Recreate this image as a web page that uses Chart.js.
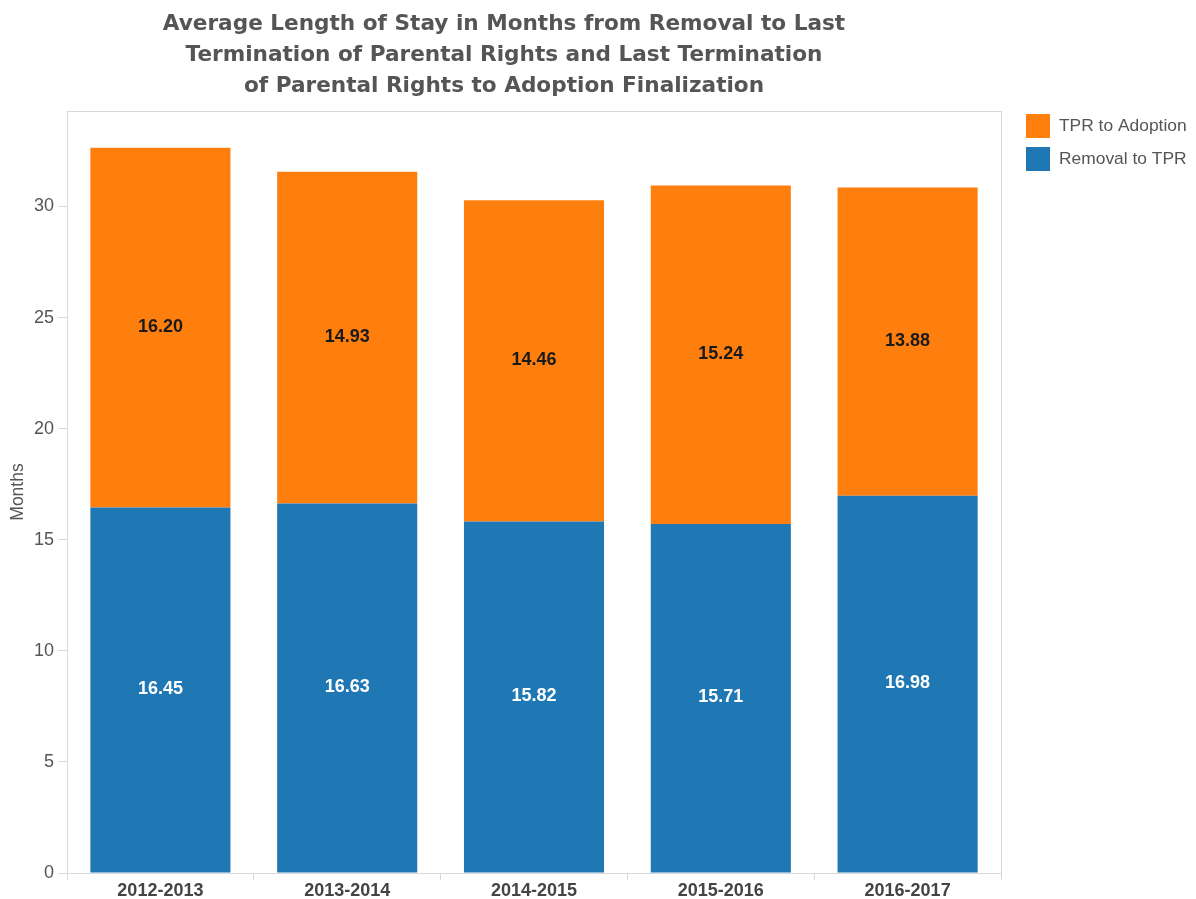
<!DOCTYPE html>
<html>
<head>
<meta charset="utf-8">
<script src="https://cdn.jsdelivr.net/npm/chart.js@4/dist/chart.umd.min.js"></script>
<style>
  html, body { margin: 0; padding: 0; background: #fff; }
  #wrap { width: 1196px; height: 899px; }
</style>
</head>
<body>
<div id="wrap"><canvas id="c" width="1196" height="899"></canvas></div>
<script>
// chart data
const titleLines = [
  "Average Length of Stay in Months from Removal to Last",
  "Termination of Parental Rights and Last Termination",
  "of Parental Rights to Adoption Finalization"
];
const years = ["2012-2013", "2013-2014", "2014-2015", "2015-2016", "2016-2017"];
const removalToTpr = [16.45, 16.63, 15.82, 15.71, 16.98];
const tprToAdoption = [16.20, 14.93, 14.46, 15.24, 13.88];
const yTicks = [0, 5, 10, 15, 20, 25, 30];
const seriesNames = ["Removal to TPR", "TPR to Adoption"];

const BLUE = "#1f77b4";
const ORANGE = "#ff7f0e";
const AXIS = "#d9d9d9";
const FONT = "'Liberation Sans', Arial, sans-serif";

// title, legend, plot frame and bar labels
const extras = {
  id: "extras",
  beforeDatasetsDraw(chart) {
    const { ctx, chartArea: a } = chart;
    ctx.save();
    ctx.strokeStyle = AXIS;
    ctx.lineWidth = 1;
    ctx.strokeRect(Math.round(a.left) + 0.5, Math.round(a.top) + 0.5,
                   Math.round(a.right - a.left), Math.round(a.bottom - a.top));
    ctx.restore();
  },
  afterDatasetsDraw(chart) {
    const { ctx } = chart;
    ctx.save();
    ctx.font = "bold 18px " + FONT;
    ctx.textAlign = "center";
    ctx.textBaseline = "middle";
    chart.data.datasets.forEach((ds, i) => {
      const meta = chart.getDatasetMeta(i);
      ctx.fillStyle = i === 0 ? "#ffffff" : "#1a1a1a";
      meta.data.forEach((bar, j) => {
        const cy = (bar.y + bar.base) / 2;
        ctx.fillText(ds.data[j].toFixed(2), bar.x, cy - 1);
      });
    });
    ctx.restore();
  },
  afterDraw(chart) {
    const { ctx } = chart;
    ctx.save();
    // title
    ctx.fillStyle = "#555555";
    ctx.font = "bold 21.6px 'DejaVu Sans', Tahoma, sans-serif";
    ctx.textAlign = "center";
    ctx.textBaseline = "middle";
    titleLines.forEach((t, i) => ctx.fillText(t, 504, 24 + i * 31));
    // legend (top entry is the stacked top series)
    const items = [
      { text: seriesNames[1], color: ORANGE },
      { text: seriesNames[0], color: BLUE }
    ];
    ctx.font = "17.4px " + FONT;
    ctx.textAlign = "left";
    items.forEach((it, i) => {
      const y = 114 + i * 33;
      ctx.fillStyle = it.color;
      ctx.fillRect(1026, y, 24, 24);
      ctx.fillStyle = "#555555";
      ctx.fillText(it.text, 1059, y + 12);
    });
    ctx.restore();
  }
};

new Chart(document.getElementById("c"), {
  type: "bar",
  data: {
    labels: years,
    datasets: [
      { label: seriesNames[0], data: removalToTpr, backgroundColor: BLUE },
      { label: seriesNames[1], data: tprToAdoption, backgroundColor: ORANGE }
    ]
  },
  options: {
    responsive: false,
    animation: false,
    devicePixelRatio: 1,
    layout: { padding: { left: 0, top: 111, right: 195, bottom: 0 } },
    datasets: { bar: { categoryPercentage: 0.75, barPercentage: 1 } },
    plugins: {
      legend: { display: false },
      title: { display: false },
      tooltip: { enabled: false }
    },
    scales: {
      x: {
        stacked: true,
        afterFit(s) { s.height = 26; },
        border: { color: AXIS },
        grid: { drawOnChartArea: false, drawTicks: true, tickLength: 7, color: AXIS, offset: true },
        ticks: {
          padding: 0,
          color: "#444444",
          font: { family: FONT, size: 18, weight: "bold" }
        }
      },
      y: {
        stacked: true,
        min: 0,
        max: 34.3,
        afterFit(s) { s.width = 67; },
        afterBuildTicks(s) { s.ticks = yTicks.map(v => ({ value: v })); },
        border: { color: AXIS },
        grid: { drawOnChartArea: false, drawTicks: true, tickLength: 9, color: AXIS },
        title: {
          display: true,
          text: "Months",
          color: "#555555",
          padding: { top: 8, bottom: 0 },
          font: { family: FONT, size: 17.5 }
        },
        ticks: {
          padding: 4,
          color: "#555555",
          font: { family: FONT, size: 18 }
        }
      }
    }
  },
  plugins: [extras]
});
</script>
</body>
</html>
